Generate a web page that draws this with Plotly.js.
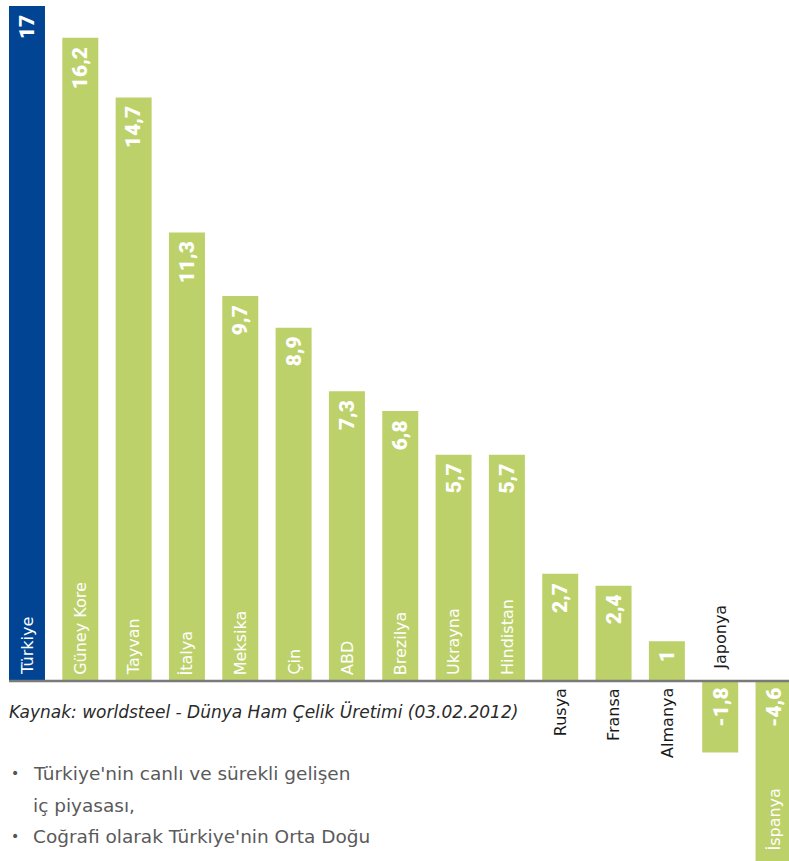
<!DOCTYPE html>
<html>
<head>
<meta charset="utf-8">
<script src="https://cdn.plot.ly/plotly-3.0.1.min.js"></script>
<style>
html,body{margin:0;padding:0;background:#fff;}
#chart{width:789px;height:861px;}
</style>
</head>
<body>
<div id="chart"></div>
<script>
var categories = ["Türkiye","Güney Kore","Tayvan","İtalya","Meksika","Çin","ABD","Brezilya","Ukrayna","Hindistan","Rusya","Fransa","Almanya","Japonya","İspanya"];
var values = [17, 16.2, 14.7, 11.3, 9.7, 8.9, 7.3, 6.8, 5.7, 5.7, 2.7, 2.4, 1, -1.8, -4.6];
var sourceText = "Kaynak: worldsteel - Dünya Ham Çelik Üretimi (03.02.2012)";
var bulletLines = [
  {bullet: true, text: "Türkiye'nin canlı ve sürekli gelişen"},
  {bullet: false, text: "iç piyasası,"},
  {bullet: true, text: "Coğrafi olarak Türkiye'nin Orta Doğu"}
];

var BLUE = "#004493", GREEN = "#bdd16b";
var colors = categories.map(function(c, i){ return i === 0 ? BLUE : GREEN; });

function fmt(v){ return String(v).replace(".", ","); }

var W = 789, H = 861;
var yRange = [-180 / 39.7, 681 / 39.7];
var annotations = [];
categories.forEach(function(c, i){
  var v = values[i];
  // value labels
  annotations.push({
    x: c, y: v >= 0 ? v : 0, xref: "x", yref: "y",
    text: fmt(v), showarrow: false, textangle: -90,
    xanchor: "center", yanchor: "top", yshift: v >= 0 ? -7 : -5,
    font: {family: "Roboto, sans-serif", size: 21, color: "#ffffff", weight: 900}
  });
  // category labels
  var a = {x: c, xref: "x", yref: "y", text: c, showarrow: false, textangle: -90,
    xanchor: "center", font: {family: "DejaVu Sans, sans-serif", size: 16, color: "#ffffff"}};
  if (v > 3) { a.y = 0; a.yanchor = "bottom"; a.yshift = 4; }
  else if (v > 0) { a.y = 0; a.yanchor = "top"; a.yshift = -5; a.font.color = "#1a1a1a"; }
  else if (v > -3) { a.y = 0; a.yanchor = "bottom"; a.yshift = 9; a.font.color = "#1a1a1a"; }
  else if (v >= yRange[0]) { a.y = v; a.yanchor = "bottom"; a.yshift = 10; }
  else { a.yref = "paper"; a.y = 0; a.yanchor = "bottom"; a.yshift = 8; }
  annotations.push(a);
});

annotations.push({
  x: 7 / W, y: 1 - 711 / H, xref: "paper", yref: "paper", xanchor: "left", yanchor: "middle",
  text: "<i>" + sourceText + "</i>", showarrow: false,
  font: {family: "DejaVu Sans, sans-serif", size: 17, color: "#2a2a2a"}
});
var lineY = [773, 805, 836];
bulletLines.forEach(function(l, i){
  if (l.bullet) {
    annotations.push({
      x: 9 / W, y: 1 - lineY[i] / H, xref: "paper", yref: "paper", xanchor: "left", yanchor: "middle",
      text: "•", showarrow: false, font: {family: "DejaVu Sans, sans-serif", size: 14, color: "#555555"}
    });
  }
  annotations.push({
    x: 31 / W, y: 1 - lineY[i] / H, xref: "paper", yref: "paper", xanchor: "left", yanchor: "middle",
    text: l.text, showarrow: false, font: {family: "DejaVu Sans, sans-serif", size: 18.5, color: "#5a5a5a"}
  });
});

var trace = {
  type: "bar", x: categories, y: values,
  marker: {color: colors, line: {width: 0}},
  hoverinfo: "skip"
};

var layout = {
  width: W, height: H,
  margin: {l: 0, r: 0, t: 0, b: 0},
  paper_bgcolor: "#ffffff", plot_bgcolor: "#ffffff",
  showlegend: false,
  bargap: 0.325,
  xaxis: {type: "category", range: [-0.506, 14.29], visible: false, fixedrange: true},
  yaxis: {range: yRange, visible: false, zeroline: false, fixedrange: true},
  shapes: [{
    type: "line", xref: "paper", yref: "y", x0: 9 / W, x1: 1, y0: 0, y1: 0,
    line: {color: "#7a7a7a", width: 2.5}, layer: "above"
  }],
  annotations: annotations
};

Plotly.newPlot("chart", [trace], layout, {displayModeBar: false, staticPlot: true});
</script>
</body>
</html>
